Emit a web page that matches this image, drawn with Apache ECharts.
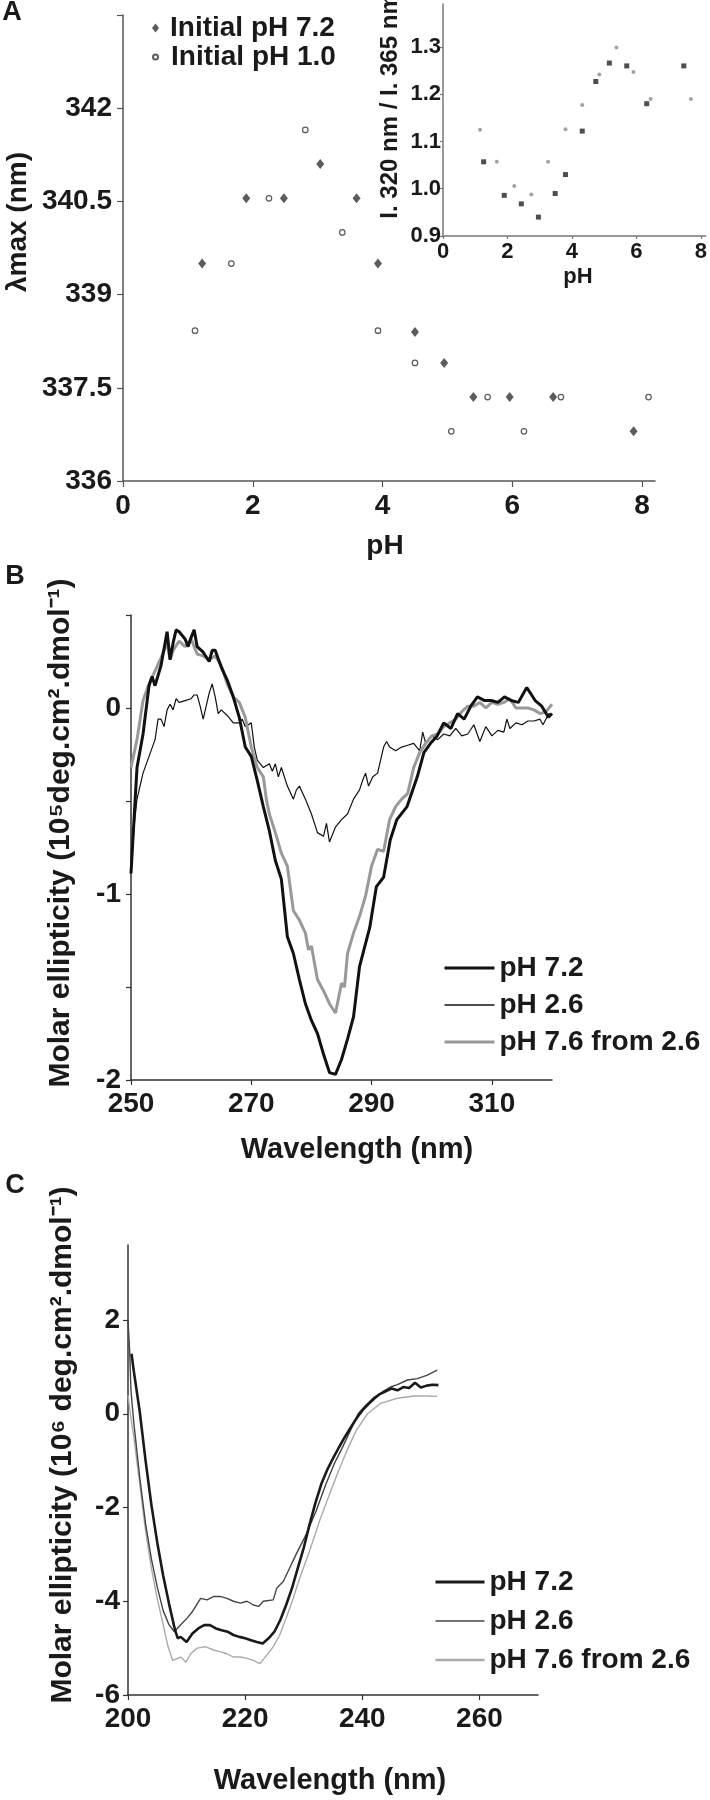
<!DOCTYPE html>
<html><head><meta charset="utf-8">
<script src="https://cdn.jsdelivr.net/npm/echarts@6/dist/echarts.min.js"></script>
<style>html,body{margin:0;padding:0;background:#fff}#c{width:710px;height:1800px}</style>
</head><body><div id="c"></div>
<script>
// ---------- Panel A (main): lambda max vs pH ----------
const aPh72  = [1.22, 1.90, 2.48, 3.04, 3.60, 3.93, 4.50, 4.95, 5.40, 5.96, 6.63, 7.87];
const aLam72 = [339.5, 340.55, 340.55, 341.1, 340.55, 339.5, 338.4, 337.9, 337.35, 337.35, 337.35, 336.8];
const aPh10  = [1.11, 1.67, 2.25, 2.81, 3.38, 3.93, 4.50, 5.06, 5.62, 6.18, 6.75, 8.10];
const aLam10 = [338.42, 339.5, 340.55, 341.65, 340.0, 338.42, 337.9, 336.8, 337.35, 336.8, 337.35, 337.35];
const aXTicks = [0, 2, 4, 6, 8];
const aYTicks = [336, 337.5, 339, 340.5, 342, 343.5];
const aYLabels = [336, 337.5, 339, 340.5, 342];

// ---------- Panel A (inset): I320/I365 vs pH ----------
const inPh72    = [1.26, 1.90, 2.43, 2.96, 3.48, 3.80, 4.32, 4.74, 5.16, 5.70, 6.32, 7.47];
const inRatio72 = [1.057, 0.986, 0.968, 0.940, 0.990, 1.030, 1.122, 1.227, 1.266, 1.260, 1.180, 1.260];
const inPh10    = [1.15, 1.67, 2.21, 2.74, 3.26, 3.80, 4.32, 4.85, 5.38, 5.91, 6.44, 7.69];
const inRatio10 = [1.125, 1.057, 1.006, 0.988, 1.057, 1.126, 1.177, 1.242, 1.299, 1.247, 1.190, 1.190];
const inXTicks = [0, 2, 4, 6, 8];
const inYTicks = [0.9, 1.0, 1.1, 1.2, 1.3];

// ---------- Panel B: near-UV CD ----------
const bWl72  = [250,250.5,251,252,253,253.5,254,255,256,256.5,257,257.5,258,259,259.5,260,260.5,261,262,263,263.5,264,265,266,267,268,269,270,271,272,273,274,275,276,277,278,279,280,281,282,283,284,285,286,287,288,289.7,290.8,292,293.1,294.2,295.9,297.6,298.7,299.8,300.9,302,303.2,304.3,305.4,306.5,307.6,308.8,309.9,311,312.1,313.2,314.4,315.8,317.2,318.3,319.4,320];
const bVal72 = [-0.89,-0.6,-0.32,-0.14,0.12,0.17,0.12,0.23,0.41,0.26,0.35,0.42,0.41,0.37,0.33,0.38,0.42,0.33,0.30,0.25,0.31,0.31,0.22,0.15,0.06,-0.05,-0.21,-0.26,-0.39,-0.53,-0.66,-0.82,-0.92,-1.23,-1.32,-1.46,-1.59,-1.68,-1.75,-1.86,-1.96,-1.97,-1.89,-1.78,-1.66,-1.39,-1.18,-0.96,-0.91,-0.71,-0.60,-0.53,-0.37,-0.24,-0.19,-0.15,-0.08,-0.11,-0.03,-0.06,0.01,0.06,0.04,0.04,0.03,0.06,0.04,0.03,0.11,0.04,0.01,-0.05,-0.03];
const bWl26  = [250,250.5,251,252,253,254,254.5,255,255.5,256,256.5,257,257.5,258,259,260,260.5,261,261.5,262,262.5,263,263.5,264,264.5,265,266,267,268,268.5,269,270,270.5,271,272,273,273.5,274,274.5,275,276,277,277.5,278,279,280,281,282,282.5,283,284,285,286,287,288,288.5,289,289.5,290.2,291,292,292.5,293,294,295,296,297,298,298.5,299,300,301,302,303,304,305,306,307,308,309,310,311,312,312.5,313,314,315,316,317,318,318.5,319.5,320];
const bVal26 = [-0.89,-0.64,-0.49,-0.35,-0.26,-0.17,-0.06,-0.06,-0.10,-0.01,0.02,-0.01,0.05,0.03,0.04,0.05,0.07,0.07,0.01,-0.06,0.01,0.08,0.13,0.06,-0.03,-0.01,-0.04,-0.08,-0.08,-0.06,-0.10,-0.08,-0.21,-0.28,-0.32,-0.30,-0.34,-0.30,-0.37,-0.32,-0.42,-0.49,-0.44,-0.42,-0.49,-0.57,-0.67,-0.69,-0.62,-0.72,-0.64,-0.60,-0.57,-0.49,-0.44,-0.39,-0.35,-0.42,-0.37,-0.35,-0.21,-0.18,-0.21,-0.23,-0.21,-0.20,-0.19,-0.23,-0.13,-0.19,-0.15,-0.17,-0.14,-0.15,-0.11,-0.15,-0.14,-0.09,-0.18,-0.10,-0.15,-0.12,-0.13,-0.06,-0.11,-0.08,-0.09,-0.07,-0.07,-0.06,-0.09,-0.03,-0.04];
const bWl76  = [250,251,252,253,254,255,256,256.5,257,258,259,260,261,262,263,264,265,266,267,268,269,270,271,272,272.5,273,274,275,276,277,278,279,279.5,280,281,282,283,284,285,285.5,286,287,288,289,290,291,292,293,294,295,296,297,298,299,300,301,302,303,304,305,306,307,308,309,310,311,312,313,314,315,316,317,318,319,320];
const bVal76 = [-0.32,-0.17,0.04,0.13,0.20,0.27,0.35,0.26,0.31,0.36,0.33,0.37,0.29,0.28,0.26,0.28,0.23,0.13,0.06,0.03,-0.05,-0.21,-0.32,-0.37,-0.49,-0.57,-0.67,-0.78,-0.85,-1.09,-1.14,-1.21,-1.30,-1.28,-1.46,-1.52,-1.59,-1.64,-1.48,-1.50,-1.32,-1.21,-1.12,-1.01,-0.85,-0.76,-0.77,-0.60,-0.53,-0.49,-0.46,-0.32,-0.24,-0.19,-0.15,-0.14,-0.10,-0.08,-0.06,-0.02,0.01,0.01,0.03,0.00,0.03,0.02,0.03,0.05,0.00,0.00,0.00,-0.01,-0.03,-0.02,0.02];
const bXTicks = [250, 270, 290, 310];
const bYTicks = [-2, -1.5, -1, -0.5, 0, 0.5];
const bYLabels = [-2, -1, 0];

// ---------- Panel C: far-UV CD ----------
const cWl72  = [200.6,201,202,203,204,205,206,207,208,208.5,209,210,211,212,213,214,215,216,217,218,219,220,221,222,223,224,225,226,227,228,229,230,231,232,233,234,235,236,237,238,239,240,241,242,243,244,245,246,247,248,249,250,251,252,253];
const cVal72 = [1.28,0.9,0.05,-1.0,-1.95,-2.75,-3.45,-4.05,-4.6,-4.79,-4.76,-4.87,-4.69,-4.58,-4.51,-4.51,-4.58,-4.62,-4.65,-4.72,-4.76,-4.79,-4.83,-4.87,-4.90,-4.79,-4.65,-4.40,-4.08,-3.72,-3.29,-2.86,-2.36,-1.9,-1.5,-1.2,-0.95,-0.72,-0.5,-0.3,-0.1,0.07,0.2,0.32,0.42,0.48,0.54,0.5,0.57,0.55,0.66,0.56,0.6,0.62,0.61];
const cWl26  = [200,200.3,200.5,201,202,203,204,205,206,207,207.9,209,210.1,211,212.4,213.5,214.6,215.8,216.9,218,219.2,220.3,221.4,222.3,223.1,224.8,225.4,226.5,227.6,228.7,230.4,232.1,233.8,235.2,236.5,238,239.3,240.5,242,243.5,244.8,246,247.7,249.4,251,252.8];
const cVal26 = [2.0,1.3,0.5,-0.2,-1.35,-2.35,-3.1,-3.7,-4.2,-4.5,-4.65,-4.5,-4.36,-4.22,-3.94,-3.97,-3.9,-3.9,-3.94,-4.0,-4.04,-4.0,-4.08,-4.11,-4.0,-3.97,-3.72,-3.58,-3.29,-3.0,-2.58,-2.08,-1.5,-1.07,-0.75,-0.35,0,0.17,0.35,0.47,0.57,0.62,0.72,0.75,0.82,0.93];
const cWl76  = [200,200.5,201,202,203,204,205,206,206.8,207.6,208.5,209,209.9,210.7,211.8,213.2,214.6,215.8,216.9,218,219.2,220.3,221.4,222.5,223.7,224.8,225.9,227,228.2,229.3,231,232.7,234.4,236,237.5,239,240.9,243.1,246,248.8,251,252.8];
const cVal76 = [0.4,-0.1,-0.5,-1.5,-2.5,-3.3,-3.95,-4.5,-4.95,-5.26,-5.22,-5.19,-5.3,-5.12,-5.0,-4.97,-5.04,-5.08,-5.12,-5.19,-5.19,-5.22,-5.26,-5.33,-5.15,-4.97,-4.72,-4.36,-3.94,-3.51,-2.93,-2.29,-1.72,-1.2,-0.75,-0.35,0,0.22,0.33,0.38,0.38,0.37];
const cXTicks = [200, 220, 240, 260];
const cYTicks = [-6, -4, -2, 0, 2];

const zip = (xs, ys) => xs.map((x, i) => [x, ys[i]]);
const FONT = "'Liberation Sans', Arial, Helvetica, sans-serif";
const TXT = '#1a1a1a';

function xAx(grid, min, max, ticks, fs, margin, lineColor, tickLen) {
  return {
    type: 'value', gridIndex: grid, min: min, max: max,
    axisLine: { show: true, onZero: false, lineStyle: { color: lineColor, width: 1.5 } },
    axisTick: { show: true, length: tickLen, customValues: ticks, lineStyle: { color: lineColor, width: 1.2 } },
    axisLabel: { customValues: ticks, fontFamily: FONT, fontWeight: 'bold', fontSize: fs, color: TXT, margin: margin },
    splitLine: { show: false }
  };
}
function yAx(grid, min, max, ticks, labels, fs, margin, lineColor, tickLen, fmt) {
  return {
    type: 'value', gridIndex: grid, min: min, max: max,
    axisLine: { show: true, onZero: false, lineStyle: { color: lineColor, width: 1.5 } },
    axisTick: { show: true, length: tickLen, customValues: ticks, lineStyle: { color: lineColor, width: 1.2 } },
    axisLabel: { customValues: labels, fontFamily: FONT, fontWeight: 'bold', fontSize: fs, color: TXT, margin: margin,
                 formatter: fmt || (v => String(v)) },
    splitLine: { show: false }
  };
}

const chart = echarts.init(document.getElementById('c'), null, { renderer: 'canvas', width: 710, height: 1800 });

const lineSeries = (name, xi, wl, val, color, width) => ({
  name: name, type: 'line', xAxisIndex: xi, yAxisIndex: xi,
  data: zip(wl, val), showSymbol: false, symbol: 'none', smooth: false,
  lineStyle: { color: color, width: width }, itemStyle: { color: color },
  emphasis: { disabled: true }, animation: false
});
const legendLine = (name, color, width) => ({ name: name, lineStyle: { color: color, width: width }, itemStyle: { opacity: 0 } });

const option = {
  animation: false,
  backgroundColor: '#ffffff',
  grid: [
    { left: 123, top: 15, width: 532, height: 466 },
    { left: 443, top: 4, width: 264, height: 232 },
    { left: 131, top: 615, width: 421, height: 465 },
    { left: 128, top: 1245, width: 410, height: 450 }
  ],
  xAxis: [
    xAx(0, 0, 8.2, aXTicks, 28, 11, '#555', 6),
    xAx(1, 0, 8.15, inXTicks, 22, 5, '#777', 3),
    xAx(2, 250, 320, bXTicks, 28, 10, '#333', 5),
    xAx(3, 200, 270, cXTicks, 28, 10, '#333', 5)
  ],
  yAxis: [
    yAx(0, 336, 343.5, aYTicks, aYLabels, 28, 11, '#555', 6),
    yAx(1, 0.9, 1.391, inYTicks, inYTicks, 22, 2, '#777', 3, v => v.toFixed(1)),
    yAx(2, -2, 0.5, bYTicks, bYLabels, 28, 10, '#333', 5),
    yAx(3, -6, 3.6, cYTicks, cYTicks, 28, 8, '#333', 5)
  ],
  legend: [
    { left: 147, top: 3, orient: 'vertical', itemWidth: 7, itemHeight: 9, selectedMode: false,
      data: [{ name: 'Initial pH 7.2', icon: 'diamond' }],
      textStyle: { fontFamily: FONT, fontWeight: 'bold', fontSize: 28, lineHeight: 28, color: TXT, padding: [0, 0, 12, 6] } },
    { left: 147, top: 34, orient: 'vertical', itemWidth: 5, itemHeight: 5, selectedMode: false,
      data: [{ name: 'Initial pH 1.0', icon: 'circle' }],
      textStyle: { fontFamily: FONT, fontWeight: 'bold', fontSize: 28, lineHeight: 28, color: TXT, padding: [0, 0, 8, 8] } },
    { left: 438, top: 949, orient: 'vertical', itemWidth: 50, itemHeight: 14, itemGap: 9, selectedMode: false,
      data: [legendLine('pH 7.2', '#111', 3), legendLine('pH 2.6', '#111', 1.3), legendLine('pH 7.6 from 2.6', '#999', 3)],
      textStyle: { fontFamily: FONT, fontWeight: 'bold', fontSize: 28, lineHeight: 28, color: TXT } },
    { left: 429, top: 1563, orient: 'vertical', itemWidth: 49, itemHeight: 14, itemGap: 11, selectedMode: false,
      data: [legendLine('pH 7.2', '#1a1a1a', 3), legendLine('pH 2.6', '#444', 1.5), legendLine('pH 7.6 from 2.6', '#aaa', 2.5)],
      textStyle: { fontFamily: FONT, fontWeight: 'bold', fontSize: 28, lineHeight: 28, color: TXT } }
  ],
  series: [
    { name: 'Initial pH 7.2', type: 'scatter', xAxisIndex: 0, yAxisIndex: 0, data: zip(aPh72, aLam72),
      symbol: 'diamond', symbolSize: [8, 10], itemStyle: { color: '#333' } },
    { name: 'Initial pH 1.0', type: 'scatter', xAxisIndex: 0, yAxisIndex: 0, data: zip(aPh10, aLam10),
      symbol: 'circle', symbolSize: 5.5, itemStyle: { color: '#fff', borderColor: '#333', borderWidth: 1.2 } },
    { name: 'inset 7.2', type: 'scatter', xAxisIndex: 1, yAxisIndex: 1, data: zip(inPh72, inRatio72),
      symbol: 'rect', symbolSize: 5, itemStyle: { color: '#222' } },
    { name: 'inset 1.0', type: 'scatter', xAxisIndex: 1, yAxisIndex: 1, data: zip(inPh10, inRatio10),
      symbol: 'circle', symbolSize: 4, itemStyle: { color: '#8c8c8c' } },
    lineSeries('pH 2.6', 2, bWl26, bVal26, '#111', 1.2),
    lineSeries('pH 7.6 from 2.6', 2, bWl76, bVal76, '#999', 3),
    lineSeries('pH 7.2', 2, bWl72, bVal72, '#111', 3),
    lineSeries('pH 7.6 from 2.6', 3, cWl76, cVal76, '#aaa', 1.4),
    lineSeries('pH 2.6', 3, cWl26, cVal26, '#444', 1.4),
    lineSeries('pH 7.2', 3, cWl72, cVal72, '#1a1a1a', 2.6)
  ],
  graphic: [
    { type: 'text', x: 12, y: 13, style: { text: 'A', font: 'bold 27px ' + FONT, fill: TXT, align: 'center', verticalAlign: 'middle' } },
    { type: 'text', x: 18, y: 222, rotation: Math.PI / 2, style: { text: 'λmax (nm)', font: 'bold 28px ' + FONT, fill: TXT, align: 'center', verticalAlign: 'middle' } },
    { type: 'text', x: 385, y: 546, style: { text: 'pH', font: 'bold 28px ' + FONT, fill: TXT, align: 'center', verticalAlign: 'middle' } },
    { type: 'text', x: 390, y: 106, rotation: Math.PI / 2, style: { text: 'I. 320 nm / I. 365 nm', font: 'bold 24px ' + FONT, fill: TXT, align: 'center', verticalAlign: 'middle' } },
    { type: 'text', x: 578, y: 277, style: { text: 'pH', font: 'bold 22px ' + FONT, fill: TXT, align: 'center', verticalAlign: 'middle' } },
    { type: 'text', x: 15, y: 577, style: { text: 'B', font: 'bold 27px ' + FONT, fill: TXT, align: 'center', verticalAlign: 'middle' } },
    { type: 'text', x: 61, y: 833, rotation: Math.PI / 2, style: { text: 'Molar ellipticity (10⁵deg.cm².dmol⁻¹)', font: 'bold 30px ' + FONT, fill: TXT, align: 'center', verticalAlign: 'middle' } },
    { type: 'text', x: 357, y: 1150, style: { text: 'Wavelength (nm)', font: 'bold 29px ' + FONT, fill: TXT, align: 'center', verticalAlign: 'middle' } },
    { type: 'text', x: 15, y: 1186, style: { text: 'C', font: 'bold 27px ' + FONT, fill: TXT, align: 'center', verticalAlign: 'middle' } },
    { type: 'text', x: 63, y: 1445, rotation: Math.PI / 2, style: { text: 'Molar ellipticity (10⁶ deg.cm².dmol⁻¹)', font: 'bold 30px ' + FONT, fill: TXT, align: 'center', verticalAlign: 'middle' } },
    { type: 'text', x: 330, y: 1781, style: { text: 'Wavelength (nm)', font: 'bold 29px ' + FONT, fill: TXT, align: 'center', verticalAlign: 'middle' } }
  ]
};
chart.setOption(option);
</script>
</body></html>
